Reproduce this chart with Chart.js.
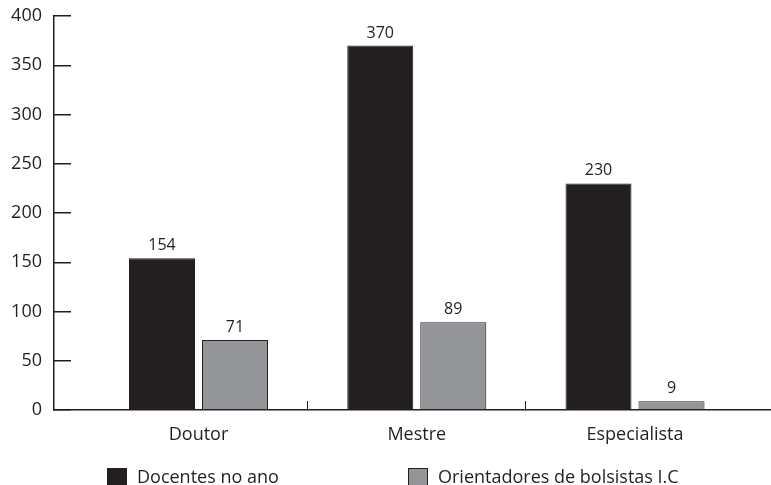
<!DOCTYPE html>
<html>
<head>
<meta charset="utf-8">
<script src="https://cdn.jsdelivr.net/npm/chart.js@4"></script>
<style>
  html, body { margin: 0; padding: 0; background: #fff; overflow: hidden; }
  .wrap { position: relative; width: 771px; height: 485px; overflow: hidden; }
  canvas { display: block; }
  .legenda { position: absolute; top: 466px; height: 20px; font-family: "Open Sans", sans-serif; font-size: 18px; line-height: 20px; color: #231f20; white-space: nowrap; }
  .legenda span.box { position: absolute; left: 0; top: 2px; width: 20px; height: 20px; box-sizing: border-box; }
  .legenda span.txt { position: absolute; left: 30px; top: 0; }
</style>
</head>
<body>
<div class="wrap">
  <canvas id="grafico" width="771" height="485"></canvas>
  <div id="legenda"></div>
</div>
<script>
// dados
const categorias = ['Doutor', 'Mestre', 'Especialista'];
const docentes = [154, 370, 230];
const orientadores = [71, 89, 9];
const nomesSeries = ['Docentes no ano', 'Orientadores de bolsistas I.C'];
const yMin = 0, yMax = 400, yPasso = 50;

const corPreta = '#231f20';
const corCinza = '#939598';

// rotulos com os valores acima das barras
const valoresPlugin = {
    id: 'valores',
    afterDatasetsDraw(chart) {
        const ctx = chart.ctx;
        ctx.save();
        ctx.font = '16px "Open Sans"';
        ctx.fillStyle = corPreta;
        ctx.textAlign = 'center';
        ctx.textBaseline = 'alphabetic';
        chart.data.datasets.forEach(function(ds, i) {
            chart.getDatasetMeta(i).data.forEach(function(bar, j) {
                ctx.fillText(ds.data[j], bar.x, bar.y - 8);
            });
        });
        ctx.restore();
    }
};

const ctx = document.getElementById('grafico');

new Chart(ctx, {
    type: 'bar',
    data: {
        labels: categorias,
        datasets: [
            { label: nomesSeries[0], data: docentes, backgroundColor: corPreta, borderColor: corPreta, borderWidth: 1 },
            { label: nomesSeries[1], data: orientadores, backgroundColor: corCinza, borderColor: corPreta, borderWidth: 1 }
        ]
    },
    options: {
        responsive: false,
        animation: false,
        devicePixelRatio: 1,
        categoryPercentage: 0.669,
        barPercentage: 0.904,
        layout: { padding: { top: 16, right: 0, bottom: 0, left: 0 } },
        plugins: {
            legend: { display: false },
            tooltip: { enabled: false }
        },
        scales: {
            x: {
                offset: true,
                afterBuildTicks: function(scale) {
                    // grupos um pouco para a direita, como no original
                    scale._startValue = -0.6621;
                    scale._valueRange = 3.2852;
                },
                afterFit: function(scale) {
                    scale.height = 75;
                    scale.paddingLeft = 0;
                    scale.paddingRight = 0;
                },
                border: { display: true, color: corPreta, width: 1.5 },
                grid: {
                    drawOnChartArea: false,
                    tickLength: -9,
                    lineWidth: 1,
                    color: function(c) { return (c.index === 1 || c.index === 2) ? corPreta : 'rgba(0,0,0,0)'; }
                },
                ticks: {
                    color: corPreta,
                    padding: 23,
                    font: { family: '"Open Sans"', size: 18 }
                }
            },
            y: {
                min: yMin,
                max: yMax,
                afterFit: function(scale) {
                    scale.width = 54;
                    scale.paddingTop = 0;
                    scale.paddingBottom = 0;
                },
                border: { display: true, color: corPreta, width: 1.5 },
                grid: {
                    drawOnChartArea: false,
                    tickLength: -17,
                    lineWidth: 1.5,
                    color: corPreta
                },
                ticks: {
                    stepSize: yPasso,
                    color: corPreta,
                    padding: 29,
                    font: { family: '"Open Sans"', size: 18 }
                }
            }
        }
    },
    plugins: [valoresPlugin]
});

// legenda em html
const legenda = document.getElementById('legenda');
const coresLegenda = [corPreta, corCinza];
const posLegenda = [107, 408];
nomesSeries.forEach(function(nome, i) {
    const item = document.createElement('div');
    item.className = 'legenda';
    item.style.left = posLegenda[i] + 'px';
    const box = document.createElement('span');
    box.className = 'box';
    box.style.background = coresLegenda[i];
    box.style.border = '1px solid ' + corPreta;
    const txt = document.createElement('span');
    txt.className = 'txt';
    txt.textContent = nome;
    item.appendChild(box);
    item.appendChild(txt);
    legenda.appendChild(item);
});
</script>
</body>
</html>
